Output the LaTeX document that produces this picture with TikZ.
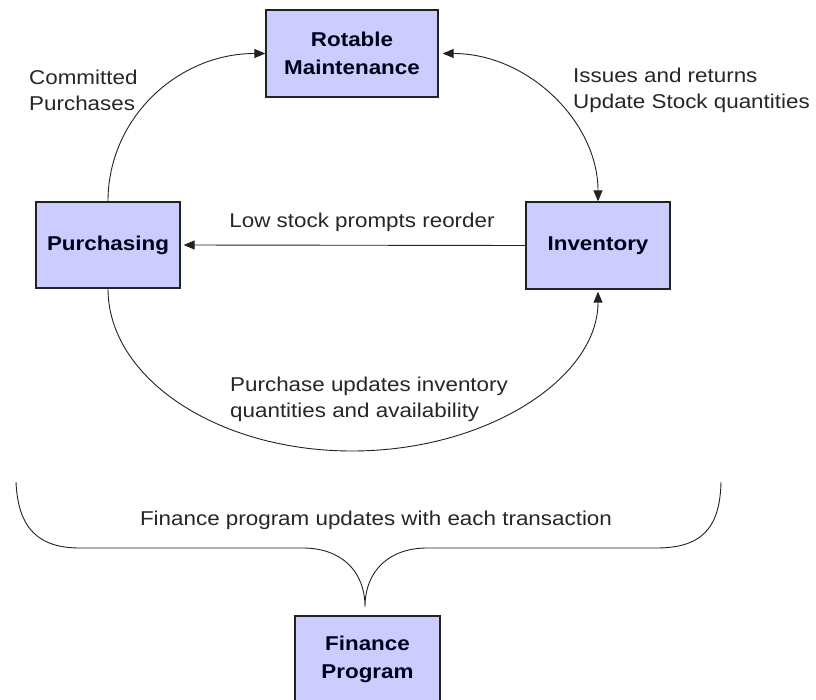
\documentclass[tikz,border=0pt]{standalone}
\usepackage{fontspec}
\setmainfont{Liberation Sans}[FakeStretch=1.12]
\usetikzlibrary{arrows.meta}
\definecolor{boxfill}{HTML}{CCCCFF}
\definecolor{lineclr}{HTML}{222222}
\begin{document}
\begin{tikzpicture}[x=1pt,y=-1pt,
  box/.style={draw=lineclr, line width=1.3pt, fill=boxfill, inner sep=0pt, align=center,
              font=\fontsize{20}{28}\selectfont\bfseries, text=black!90!blue},
  lbl/.style={font=\fontsize{20}{26}\selectfont, align=left, inner sep=0pt, text=black!85},
  conn/.style={draw=lineclr, line width=0.9pt},
  tip/.style={-{Triangle[length=11pt,width=9pt]}},
  dtip/.style={{Triangle[length=11pt,width=9pt]}-{Triangle[length=11pt,width=9pt]}},
  ]
\useasboundingbox (0,0) rectangle (816,700);
\fill[white] (0,0) rectangle (816,700);
% boxes
\node[box, minimum width=172pt, minimum height=87pt] (rot) at (352,53.5) {Rotable\\Maintenance};
\node[box, minimum width=144pt, minimum height=86pt] (pur) at (108,245) {Purchasing};
\node[box, minimum width=144pt, minimum height=87pt] (inv) at (598,245.5) {Inventory};
\node[box, minimum width=145pt, minimum height=86pt] (fin) at (367.5,659) {Finance\\Program};
% connectors
\draw[conn, tip] (pur.north) .. controls (108,118) and (178,53.5) .. (rot.west);
\draw[conn, dtip, shorten <=4pt] (rot.east) .. controls (528,53.5) and (598,122) .. (inv.north);
\draw[conn, tip, shorten >=3pt] (inv.west) -- (pur.east);
\draw[conn, tip, shorten >=2pt] (pur.south) .. controls (108,378) and (217,451) .. (352,451)
      .. controls (487,451) and (598,378) .. (inv.south);
% labels
\node[lbl, anchor=west] (lcp) at (29,90.5) {Committed\\Purchases};
\node[lbl, anchor=west] (lir) at (573,90.5) {Issues and returns\\Update Stock quantities};
\node[lbl] (llow) at (362,222) {Low stock prompts reorder};
\node[lbl, anchor=west] (lpu) at (230,399) {Purchase updates inventory\\quantities and availability};
\node[lbl] (lfin) at (376,520) {Finance program updates with each transaction};
% brace
\draw[conn] (16,482) .. controls (18,530) and (40,548) .. (80,548) -- (303,548)
      .. controls (340,548) and (365,570) .. (365,607)
      .. controls (365,570) and (390,548) .. (427,548) -- (656,548)
      .. controls (700,548) and (720,530) .. (721,482);
\end{tikzpicture}
\end{document}
